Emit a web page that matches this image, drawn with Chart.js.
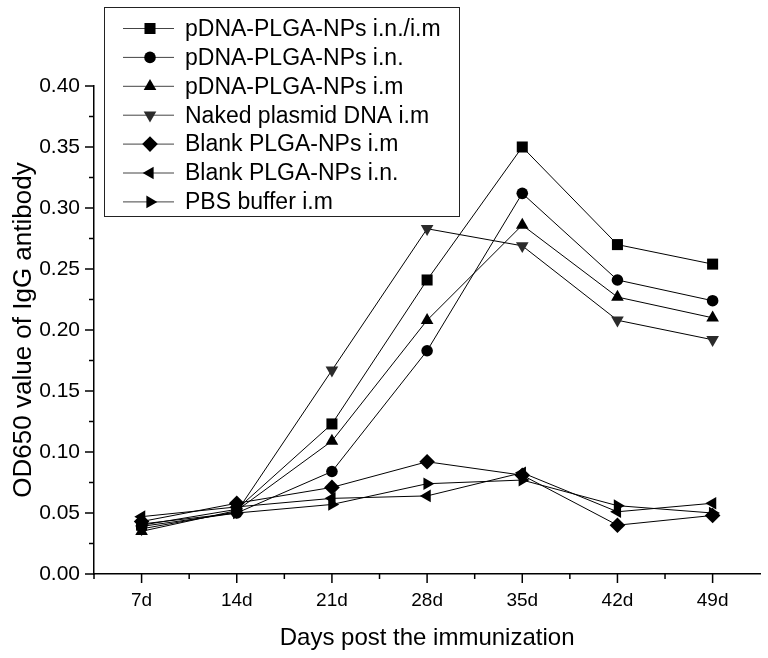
<!DOCTYPE html>
<html>
<head>
<meta charset="utf-8">
<script src="https://cdn.jsdelivr.net/npm/chart.js@4.4.0/dist/chart.umd.min.js"></script>
<style>
html,body{margin:0;padding:0;background:#fff;}
#wrap{width:768px;height:658px;position:relative;}
</style>
</head>
<body>
<div id="wrap"><canvas id="c" width="768" height="658"></canvas></div>
<script>
// ---- data ----
const days = [7, 14, 21, 28, 35, 42, 49];
const seriesNames = [
  "pDNA-PLGA-NPs i.n./i.m",
  "pDNA-PLGA-NPs i.n.",
  "pDNA-PLGA-NPs i.m",
  "Naked plasmid DNA i.m",
  "Blank PLGA-NPs i.m",
  "Blank PLGA-NPs i.n.",
  "PBS buffer i.m"
];
const pdnaInIm   = [0.040, 0.053, 0.123, 0.241, 0.350, 0.270, 0.254];
const pdnaIn     = [0.039, 0.050, 0.084, 0.183, 0.312, 0.241, 0.224];
const pdnaIm     = [0.035, 0.052, 0.109, 0.208, 0.286, 0.227, 0.210];
const nakedIm    = [0.037, 0.051, 0.167, 0.283, 0.269, 0.208, 0.192];
const blankIm    = [0.043, 0.058, 0.071, 0.092, 0.081, 0.040, 0.048];
const blankIn    = [0.047, 0.055, 0.062, 0.064, 0.083, 0.051, 0.058];
const pbsIm      = [0.041, 0.050, 0.057, 0.074, 0.077, 0.056, 0.050];
const yTickValues = [0, 0.05, 0.10, 0.15, 0.20, 0.25, 0.30, 0.35, 0.40];
const xTickLabels = days.map(d => d + "d");

const allSeries = [pdnaInIm, pdnaIn, pdnaIm, nakedIm, blankIm, blankIn, pbsIm];
const markerStyles = [
  {pointStyle: 'rect', radius: 7.8, rotation: 0, color: '#000'},
  {pointStyle: 'circle', radius: 5.8, rotation: 0, color: '#000'},
  {pointStyle: 'triangle', radius: 7.3, rotation: 0, color: '#000'},
  {pointStyle: 'triangle', radius: 7.3, rotation: 180, color: '#2b2b2b'},
  {pointStyle: 'rectRot', radius: 7.8, rotation: 0, color: '#000'},
  {pointStyle: 'triangle', radius: 7.3, rotation: 270, color: '#000'},
  {pointStyle: 'triangle', radius: 7.3, rotation: 90, color: '#000'}
];

const FONT = "'Liberation Sans', Arial, sans-serif";

const datasets = allSeries.map((vals, i) => ({
  label: seriesNames[i],
  data: vals.map((v, j) => ({x: days[j], y: v})),
  borderColor: '#000',
  borderWidth: 1,
  backgroundColor: markerStyles[i].color,
  pointBackgroundColor: markerStyles[i].color,
  pointBorderColor: markerStyles[i].color,
  pointBorderWidth: 0,
  pointStyle: markerStyles[i].pointStyle,
  pointRadius: markerStyles[i].radius,
  pointRotation: markerStyles[i].rotation,
  pointHoverRadius: markerStyles[i].radius,
  tension: 0,
  fill: false,
  clip: false
}));

// tick marks (major + minor) drawn from the scales
const tickPlugin = {
  id: 'ticks',
  afterDraw(chart) {
    const ctx = chart.ctx;
    const xs = chart.scales.x, ys = chart.scales.y;
    ctx.save();
    ctx.strokeStyle = '#000';
    ctx.lineWidth = 1.5;
    const yb = ys.getPixelForValue(0);
    for (let k = 1; k <= 14; k++) {
      const v = 3.5 * k;
      const px = xs.getPixelForValue(v);
      const len = (k % 2 === 0) ? 9 : 5;
      ctx.beginPath(); ctx.moveTo(px, yb); ctx.lineTo(px, yb + len); ctx.stroke();
    }
    const xl = xs.getPixelForValue(3.5);
    for (let k = 0; k <= 16; k++) {
      const v = 0.025 * k;
      const py = ys.getPixelForValue(v);
      const len = (k % 2 === 0) ? 9 : 5;
      ctx.beginPath(); ctx.moveTo(xl, py); ctx.lineTo(xl - len, py); ctx.stroke();
    }
    ctx.restore();
  }
};

// legend box
const legendPlugin = {
  id: 'boxLegend',
  afterDraw(chart) {
    const ctx = chart.ctx;
    ctx.save();
    const bx = 104, by = 7, bw = 355, bh = 209;
    ctx.fillStyle = '#fff';
    ctx.fillRect(bx, by, bw, bh);
    ctx.strokeStyle = '#222';
    ctx.lineWidth = 1;
    ctx.strokeRect(bx + 0.5, by + 0.5, bw, bh);
    ctx.font = '23px ' + FONT;
    ctx.textBaseline = 'middle';
    ctx.textAlign = 'left';
    for (let i = 0; i < seriesNames.length; i++) {
      const cy = 28.5 + i * 28.9;
      ctx.strokeStyle = '#444';
      ctx.lineWidth = 1;
      ctx.beginPath(); ctx.moveTo(123, cy); ctx.lineTo(174, cy); ctx.stroke();
      const m = markerStyles[i];
      ctx.fillStyle = m.color;
      ctx.strokeStyle = m.color;
      Chart.helpers.drawPoint(ctx, {pointStyle: m.pointStyle, radius: m.radius, rotation: m.rotation, borderWidth: 0}, 150, cy);
      ctx.fillStyle = '#000';
      ctx.fillText(seriesNames[i], 185, cy + 1);
    }
    ctx.restore();
  }
};

new Chart(document.getElementById('c'), {
  type: 'line',
  data: {datasets},
  plugins: [tickPlugin, legendPlugin],
  options: {
    responsive: false,
    animation: false,
    events: [],
    layout: {padding: {top: 86, right: 7, left: 0, bottom: 0}},
    plugins: {legend: {display: false}, tooltip: {enabled: false}},
    scales: {
      x: {
        type: 'linear',
        min: 3.5, max: 52.5,
        afterFit(s) { s.height = 84; },
        afterBuildTicks(s) { s.ticks = days.map(v => ({value: v})); },
        grid: {display: false, drawTicks: false},
        border: {display: true, color: '#000', width: 1.5},
        ticks: {
          padding: 15,
          color: '#000',
          font: {family: FONT, size: 19},
          callback: (v) => { const i = days.indexOf(v); return i >= 0 ? xTickLabels[i] : ''; }
        },
        title: {
          display: true,
          text: 'Days post the immunization',
          color: '#000',
          font: {family: FONT, size: 24},
          padding: {top: 0, bottom: 5}
        }
      },
      y: {
        type: 'linear',
        min: 0, max: 0.40,
        afterFit(s) { s.width = 94; },
        afterBuildTicks(s) { s.ticks = yTickValues.map(v => ({value: v})); },
        grid: {display: false, drawTicks: false},
        border: {display: true, color: '#000', width: 1.5},
        ticks: {
          padding: 14,
          color: '#000',
          font: {family: FONT, size: 21},
          callback: (v) => Number(v).toFixed(2)
        },
        title: {
          display: true,
          text: 'OD650 value of IgG antibody',
          color: '#000',
          font: {family: FONT, size: 26},
          padding: {top: 8, bottom: 0}
        }
      }
    }
  }
});
</script>
</body>
</html>
